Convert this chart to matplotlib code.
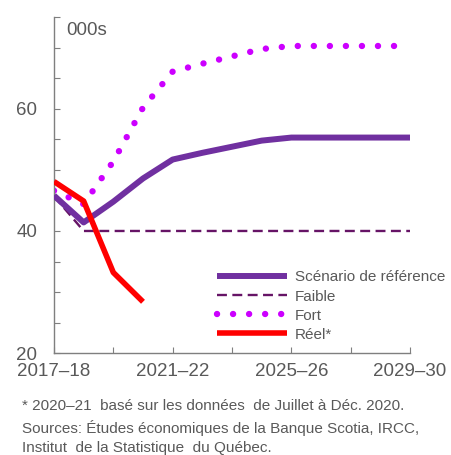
import matplotlib.pyplot as plt
import numpy as np

plt.rcParams['font.family'] = ['Liberation Sans', 'DejaVu Sans']

# Années financières
annees = ['2017–18', '2018–19', '2019–20', '2020–21', '2021–22', '2022–23',
          '2023–24', '2024–25', '2025–26', '2026–27', '2027–28', '2028–29',
          '2029–30']

# Immigrants admis (milliers)
reference = [45.8, 41.4, 44.8, 48.6, 51.7, 52.8, 53.8, 54.8, 55.3, 55.3, 55.3, 55.3, 55.3]
faible = [45.7, 40.0, 40.0, 40.0, 40.0, 40.0, 40.0, 40.0, 40.0, 40.0, 40.0, 40.0, 40.0]
fort = [46.6, 44.4, 51.4, 60.2, 66.1, 67.4, 68.6, 69.8, 70.3, 70.3, 70.3, 70.3, 70.3]
reel = [48.1, 44.9, 33.2, 28.4]

gris = '#595959'
x = np.arange(len(annees))

fig = plt.figure(figsize=(4.51, 4.55), dpi=100)
ax = fig.add_axes([0.1197, 0.224, 0.7894, 0.738])

ax.plot(x, fort, color='#CC00FF', lw=4.6, linestyle=(0, (0.01, 2.5)),
        dash_capstyle='round', label='Fort', zorder=2)
ax.plot(x, faible, color='#661466', lw=1.7, linestyle=(0, (4.2, 2.3)),
        label='Faible', zorder=3)
ax.plot(x, reference, color='#7030A0', lw=4.3, solid_capstyle='butt',
        label='Scénario de référence', zorder=4)
ax.plot(x[:len(reel)], reel, color='#FF0000', lw=4.0, solid_capstyle='butt',
        label='Réel*', zorder=5)

ax.set_xlim(0, len(annees) - 1)
ax.set_ylim(20, 75)

ax.set_xticks(x[::2])
ax.set_xticklabels([annees[i] if i % 4 == 0 else '' for i in x[::2]])
yt = np.arange(20, 80, 5)
ax.set_yticks(yt)
ax.set_yticklabels([str(v) if v in (20, 40, 60) else '' for v in yt])

for s in ['top', 'right']:
    ax.spines[s].set_visible(False)
for s in ['left', 'bottom']:
    ax.spines[s].set_color('#7f7f7f')
    ax.spines[s].set_linewidth(1.0)
ax.tick_params(direction='in', length=4, color='#7f7f7f', labelcolor=gris,
               labelsize=13.5)
ax.tick_params(axis='y', pad=12)
ax.tick_params(axis='x', pad=7)

ax.text(0.035, 0.985, '000s', transform=ax.transAxes, fontsize=13.5,
        color=gris, va='top', ha='left')

# ordre de la légende
h, l = ax.get_legend_handles_labels()
ordre = [2, 1, 0, 3]
leg = ax.legend([h[i] for i in ordre], [l[i] for i in ordre],
                loc='lower left', bbox_to_anchor=(0.441, 0.016), frameon=False,
                fontsize=11, handlelength=4.6, handletextpad=0.5,
                labelspacing=0.33, borderaxespad=0)
for t in leg.get_texts():
    t.set_color(gris)

notes = ("* 2020–21  basé sur les données  de Juillet à Déc. 2020.\n"
         "Sources: Études économiques de la Banque Scotia, IRCC,\n"
         "Institut  de la Statistique  du Québec.")
fig.text(0.048, 0.122, notes, fontsize=11.0, color=gris, va='top', ha='left',
         linespacing=1.5)

fig.savefig('out.png', dpi=100)
